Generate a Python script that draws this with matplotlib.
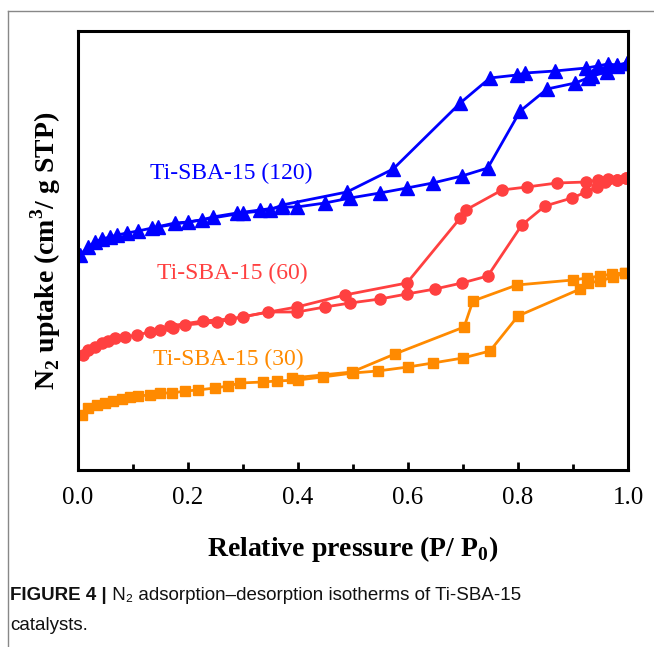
import numpy as np
import matplotlib
matplotlib.use('Agg')
import matplotlib.pyplot as plt
from matplotlib.lines import Line2D

plt.rcParams['font.family'] = ['Liberation Serif', 'DejaVu Serif']
plt.rcParams['mathtext.fontset'] = 'custom'
plt.rcParams['mathtext.rm'] = 'Liberation Serif'
plt.rcParams['mathtext.bf'] = 'Liberation Serif:bold'

# Ti-SBA-15 (120), arbitrary uptake units (offset curves)
p120_ads = [0.004, 0.018, 0.031, 0.044, 0.058, 0.071, 0.089, 0.109, 0.135, 0.176, 0.2, 0.225,
            0.245, 0.289, 0.331, 0.371, 0.398, 0.449, 0.495, 0.549, 0.598, 0.645, 0.698, 0.745,
            0.804, 0.853, 0.904, 0.927, 0.935, 0.962, 0.98, 0.998]
v120_ads = [215, 223, 228, 231, 233, 235, 237, 239, 242, 247, 248, 250,
            253, 257, 260, 263, 263, 267, 272, 277, 282, 287, 294, 302,
            359, 381, 387, 392, 394, 398, 404, 407]
p120_des = [0.998, 0.98, 0.963, 0.945, 0.924, 0.867, 0.813, 0.798, 0.749, 0.695, 0.573, 0.489,
            0.371, 0.349, 0.3, 0.145]
v120_des = [407, 405, 406, 404, 402, 399, 397, 395, 392, 367, 301, 278,
            265, 260, 257, 243]

# Ti-SBA-15 (60)
p60_ads = [0.009, 0.018, 0.031, 0.044, 0.055, 0.067, 0.085, 0.107, 0.131, 0.173, 0.195, 0.253,
           0.3, 0.345, 0.398, 0.449, 0.495, 0.549, 0.598, 0.649, 0.698, 0.745, 0.807, 0.849,
           0.898, 0.924, 0.944, 0.958, 0.98, 0.996]
v60_ads = [115, 120, 123, 127, 129, 132, 133, 135, 138, 142, 145, 148,
           153, 158, 158, 163, 167, 171, 176, 181, 187, 194, 245, 264,
           272, 278, 283, 288, 290, 292]
p60_des = [0.996, 0.98, 0.964, 0.945, 0.924, 0.871, 0.816, 0.771, 0.705, 0.695, 0.598, 0.485,
           0.398, 0.276, 0.227, 0.167, 0.149]
v60_des = [292, 290, 291, 290, 288, 287, 283, 280, 260, 252, 187, 175,
           163, 151, 149, 144, 140]

# Ti-SBA-15 (30)
p30_ads = [0.007, 0.018, 0.035, 0.049, 0.064, 0.08, 0.095, 0.109, 0.131, 0.149, 0.171, 0.195,
           0.218, 0.249, 0.273, 0.295, 0.336, 0.362, 0.4, 0.445, 0.5, 0.545, 0.6, 0.645,
           0.7, 0.749, 0.8, 0.913, 0.927, 0.949, 0.973, 0.995]
v30_ads = [55, 62, 65, 67, 69, 71, 73, 74, 75, 77, 77, 79,
           80, 82, 84, 87, 88, 89, 90, 93, 97, 99, 103, 107,
           112, 119, 154, 181, 187, 189, 193, 197]
p30_des = [0.995, 0.971, 0.949, 0.925, 0.9, 0.798, 0.718, 0.702, 0.576, 0.498, 0.389]
v30_des = [197, 196, 194, 192, 190, 185, 169, 143, 116, 98, 92]

fig = plt.figure(figsize=(6.54, 6.47), dpi=100)
ax = fig.add_axes([78/654, 1-470/647, 550/654, 439/647])

blue = '#0000FF'
red = '#FF4040'
orange = '#FF8A00'

ax.plot(p120_ads, v120_ads, '-^', color=blue, lw=2.0, ms=9.5)
ax.plot(p120_des, v120_des, '-^', color=blue, lw=2.0, ms=9.5)
ax.plot(p60_ads, v60_ads, '-o', color=red, lw=2.0, ms=8)
ax.plot(p60_des, v60_des, '-o', color=red, lw=2.0, ms=8)
ax.plot(p30_ads, v30_ads, '-s', color=orange, lw=2.0, ms=7)
ax.plot(p30_des, v30_des, '-s', color=orange, lw=2.0, ms=7)

ax.text(0.278, 297, 'Ti-SBA-15 (120)', color=blue, fontsize=17, ha='center', va='center')
ax.text(0.28, 197, 'Ti-SBA-15 (60)', color=red, fontsize=17, ha='center', va='center')
ax.text(0.273, 111, 'Ti-SBA-15 (30)', color=orange, fontsize=17, ha='center', va='center')

ax.set_xlim(0, 1.0)
ax.set_ylim(0, 439)
ax.set_xticks(np.arange(0, 1.01, 0.2))
ax.set_xticks(np.arange(0.1, 1.0, 0.2), minor=True)
ax.set_xticklabels(['0.0', '0.2', '0.4', '0.6', '0.8', '1.0'], fontsize=18)
ax.set_yticks([])
ax.tick_params(axis='x', which='major', direction='in', length=6, width=2, pad=12)
ax.tick_params(axis='x', which='minor', direction='in', length=4, width=2)
for s in ax.spines.values():
    s.set_linewidth(2.2)

ax.set_xlabel(r'Relative pressure (P/ P$_\mathbf{0}$)', fontsize=20, fontweight='bold', labelpad=18)
ax.set_ylabel(r'N$_\mathbf{2}$ uptake (cm$^\mathbf{3}$/ g STP)', fontsize=20, fontweight='bold', labelpad=11)

# article frame lines
fig.add_artist(Line2D([8/654, 1], [1-11/647, 1-11/647], color='#888888', lw=1))
fig.add_artist(Line2D([8/654, 8/654], [0, 1-11/647], color='#888888', lw=1))

cap_font = ['Liberation Sans', 'DejaVu Sans']
t1 = fig.text(10/654, 1-596/647, 'FIGURE 4 |', fontsize=13.5, fontweight='bold',
              family=cap_font, va='center', color='#111111')
plt.annotate(' N\u2082 adsorption\u2013desorption isotherms of Ti-SBA-15', xy=(1, 0.5), xycoords=t1,
             va='center', ha='left', fontsize=13.5, family=cap_font,
             color='#111111', annotation_clip=False)
fig.text(10/654, 1-625/647, 'catalysts.', fontsize=13.5, family=cap_font,
         va='center', color='#111111')

fig.savefig('out.png', dpi=100)
